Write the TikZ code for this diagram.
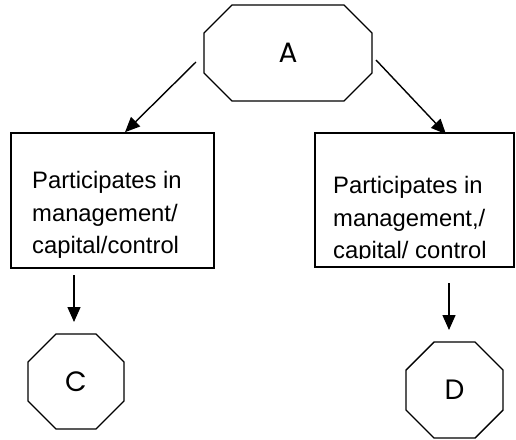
\documentclass[tikz,border=0pt]{standalone}
\usepackage{fontspec}
\setmainfont{Liberation Sans}
\newfontfamily\geofont{Poppins}
\usetikzlibrary{arrows.meta,positioning}

\begin{document}
\begin{tikzpicture}[x=1pt,y=-1pt,
  octa/.style={inner sep=0pt,outer sep=0pt,
    font=\geofont\fontsize{28}{28}\selectfont},
  oline/.style={line width=1.4pt,line join=miter},
  box/.style={draw,line width=1.6pt,inner sep=0pt},
  txt/.style={anchor=north west,inner sep=0pt,align=left,
    font=\fontsize{23.8}{32.5}\selectfont},
  arr/.style={line width=1.4pt,-{Triangle[length=15pt,width=13pt]}}]
\useasboundingbox (0,0) rectangle (516,439);

\node[octa,minimum width=168pt,minimum height=96pt] (A) at (288,53) {A};
\node[box,minimum width=203pt,minimum height=135pt] (bl) at (112.5,200.5) {};
\node[box,minimum width=199pt,minimum height=134pt] (br) at (414.5,200) {};
\node[octa,minimum width=96pt,minimum height=95pt] (C) at (76,381.5) {C};
\node[octa,minimum width=97pt,minimum height=96pt] (D) at (454.5,390) {D};

% octagon outlines round A, C and D
\foreach \n in {A,C,D}{
  \draw[oline] ([xshift=28pt]\n.north west) -- ([xshift=-28pt]\n.north east)
    -- ([yshift=-28pt]\n.north east) -- ([yshift=28pt]\n.south east)
    -- ([xshift=-28pt]\n.south east) -- ([xshift=28pt]\n.south west)
    -- ([yshift=28pt]\n.south west) -- ([yshift=-28pt]\n.north west) -- cycle;
}

% the last line is cut off at the bottom
\begin{scope}
\clip (11,133) rectangle (214,257);
\node[txt] (tl) at (32,171.5) {Participates in\\management/\\capital/control};
\end{scope}
\begin{scope}
\clip (315,133) rectangle (514,258);
\node[txt] (tr) at (333,176.5) {Participates in\\management,/\\capital/ control};
\end{scope}

\draw[arr] ([xshift=-8pt,yshift=-9pt]A.west) -- ([xshift=12.5pt]bl.north);
\draw[arr] ([xshift=4pt,yshift=-7pt]A.east) -- ([xshift=31.5pt,yshift=-2pt]br.north);
\draw[arr] ([xshift=-2pt,yshift=59pt]C.north) -- ([xshift=-2pt,yshift=12pt]C.north);
\draw[arr] ([xshift=-5.5pt,yshift=59pt]D.north) -- ([xshift=-5.5pt,yshift=12pt]D.north);
\end{tikzpicture}
\end{document}
